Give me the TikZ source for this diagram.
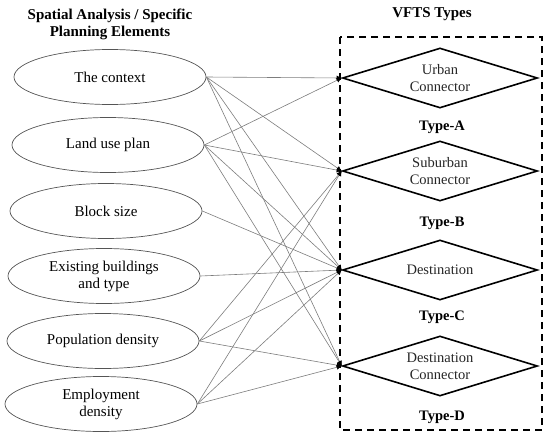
\documentclass[tikz,border=0pt]{standalone}
\usepackage{fontspec}
\setmainfont{Liberation Serif}
\usetikzlibrary{shapes.geometric, arrows.meta, positioning}
\definecolor{cLink}{RGB}{125,125,125}
\definecolor{cOval}{RGB}{85,85,85}
\tikzset{
    element/.style ={ellipse, minimum width=192pt, minimum height=55pt, inner sep=0pt, align=center, draw=cOval, line width=0.7pt, font=\fontsize{15}{17}\selectfont},
    vftstype/.style={diamond, aspect=3.25, minimum width=195pt, minimum height=60pt, inner sep=0pt, align=center, draw=black, line width=1.6pt, text=black!85, font=\fontsize{14.5}{17}\selectfont},
    typelabel/.style={font=\fontsize{14.5}{17}\selectfont\bfseries},
    heading/.style ={align=center, font=\fontsize{15}{17}\selectfont\bfseries},
    link/.style    ={draw=cLink, line width=0.6pt, -{Latex[black, length=5pt, width=5pt]}},
}

\begin{document}
\begin{tikzpicture}[x=1pt, y=-1pt]
    \useasboundingbox (0,0) rectangle (550,442);
    \node[heading] (hleft) at (110,24) {Spatial Analysis / Specific\\Planning Elements};
    \node[heading] (hright) at (432,14) {VFTS Types};
    % planning elements
    \node[element] (ctx) at (110,77) {The context};
    \node[element] (land) at (108,145) {Land use plan};
    \node[element] (blk) at (106,211) {Block size};
    \node[element] (bld) at (104,276) {Existing buildings\\and type};
    \node[element] (pop) at (103,341) {Population density};
    \node[element] (emp) at (101,404) {Employment\\density};
    % vfts types
    \node[vftstype] (ta) at (440,78) {Urban\\Connector};
    \node[vftstype] (tb) at (440,171) {Suburban\\Connector};
    \node[vftstype] (tc) at (440,270) {Destination};
    \node[vftstype] (td) at (440,366) {Destination\\Connector};
    \node[typelabel] (la) at (442,127) {Type-A};
    \node[typelabel] (lb) at (442,223) {Type-B};
    \node[typelabel] (lc) at (442,317) {Type-C};
    \node[typelabel] (ld) at (442,417) {Type-D};
    \draw[line width=1.5pt, dash pattern=on 7pt off 5pt] (340,37) rectangle (542,430);
    % links
    \foreach \s/\t in {ctx/ta, ctx/tb, ctx/tc, ctx/td, land/ta, land/tb, land/tc, land/td,
                       blk/tc, bld/tc, pop/tb, pop/tc, pop/td, emp/tb, emp/tc, emp/td}
        \draw[link] (\s.east) -- (\t.west);
\end{tikzpicture}
\end{document}
